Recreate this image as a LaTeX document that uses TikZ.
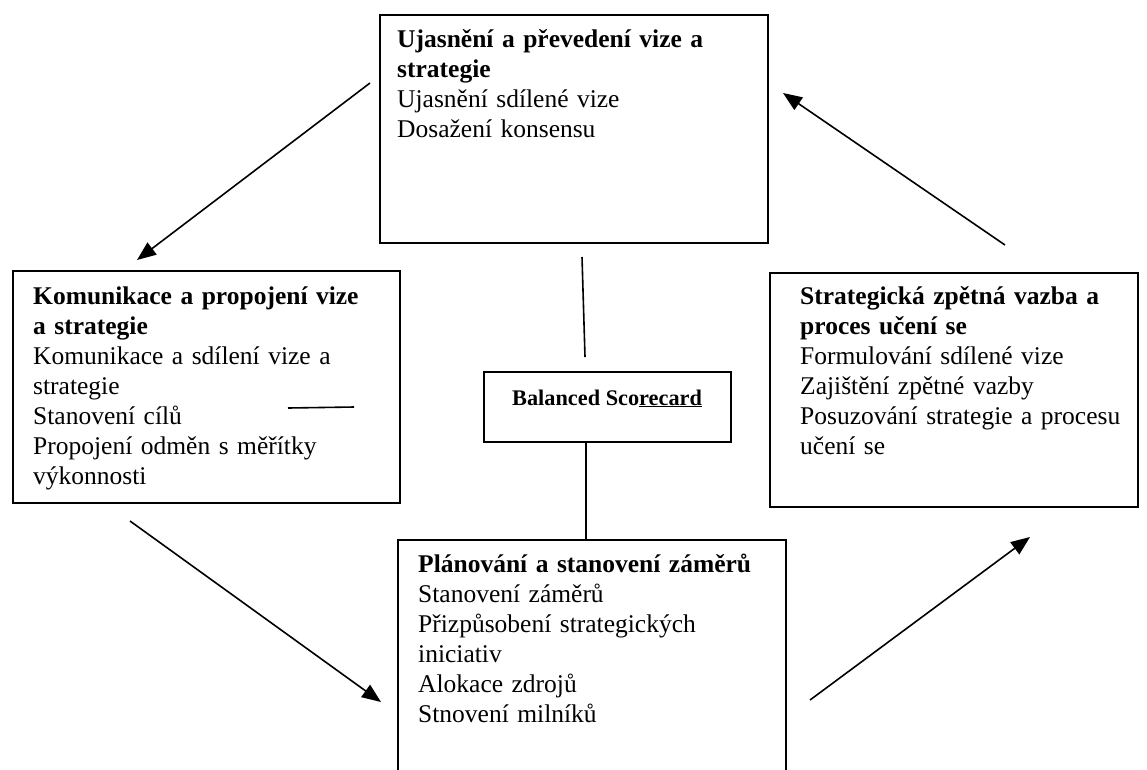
\documentclass[tikz,border=0pt]{standalone}
\usepackage{fontspec}
\setmainfont{Liberation Serif}
\usetikzlibrary{calc,arrows.meta}
\begin{document}
\begin{tikzpicture}[x=1pt,y=-1pt,
  frame/.style={draw, line width=2.4pt, inner sep=0pt, anchor=north west},
  body/.style={anchor=base west, inner sep=0pt, align=left, text width=380pt,
    font=\fontsize{25.5}{30}\selectfont},
  hub/.style={anchor=base west, inner sep=0pt, font=\fontsize{22.3}{27}\selectfont\bfseries},
  link/.style={line width=1.6pt},
  flow/.style={line width=1.6pt, -{Triangle[length=19pt,width=15pt]}}]
\useasboundingbox (0,0) rectangle (1147,769);

% the five boxes
\node[frame, minimum width=388pt, minimum height=228pt] (vision) at (379,14) {};
\node[frame, minimum width=387pt, minimum height=232pt] (comm) at (12,270) {};
\node[frame, minimum width=368pt, minimum height=234pt] (learn) at (769,272) {};
\node[frame, minimum width=388pt, minimum height=260pt] (plan) at (397,539) {};
\node[frame, minimum width=247pt, minimum height=70pt] (bsc) at (483,371) {};

% box texts
\node[body] (visiontxt) at (397,47) {\textbf{Ujasnění a převedení vize a}\\\textbf{strategie}\\Ujasnění sdílené vize\\Dosažení konsensu};
\node[body] (commtxt) at (33,304) {\textbf{Komunikace a propojení vize}\\\textbf{a strategie}\\Komunikace a sdílení vize a\\strategie\\Stanovení cílů\\Propojení odměn s měřítky\\výkonnosti};
\node[body] (learntxt) at (800,304) {\textbf{Strategická zpětná vazba a}\\\textbf{proces učení se}\\Formulování sdílené vize\\Zajištění zpětné vazby\\Posuzování strategie a procesu\\učení se};
\node[body] (plantxt) at (418,572) {\textbf{Plánování a stanovení záměrů}\\Stanovení záměrů\\Přizpůsobení strategických\\iniciativ\\Alokace zdrojů\\Stnovení milníků};
\node[hub] (bsctxt) at (512,405) {Balanced Sco\underline{recard}};

% free ends of the connectors
\coordinate (a1s) at (370,83);   \coordinate (a1e) at (137,260);
\coordinate (a2s) at (1005,245); \coordinate (a2e) at (783,93);
\coordinate (a3s) at (130,521);  \coordinate (a3e) at (381,702);
\coordinate (a4s) at (810,700);  \coordinate (a4e) at (1030,537);
\coordinate (l1s) at (582,257);  \coordinate (l1e) at (585,357);
\coordinate (dash1) at (288,408); \coordinate (dash2) at (354,407);

% cycle arrows
\draw[flow] (a1s) -- (a1e);
\draw[flow] (a3s) -- (a3e);
\draw[flow] (a4s) -- (a4e);
\draw[flow] (a2s) -- (a2e);

% links to the central box
\draw[link] (l1s) -- (l1e);
\draw[link] (bsc.south -| 586,0) -- (plan.north -| 586,0);
\draw[link] (dash1) -- (dash2);
\end{tikzpicture}
\end{document}
